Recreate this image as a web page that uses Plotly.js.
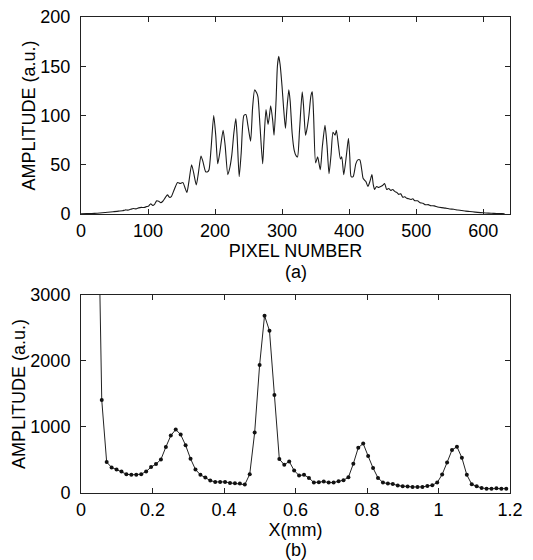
<!DOCTYPE html>
<html>
<head>
<meta charset="utf-8">
<script src="https://cdn.plot.ly/plotly-3.0.1.min.js"></script>
<style>html,body{margin:0;padding:0;background:#fff;}#chart{width:533px;height:560px;}</style>
</head>
<body>
<div id="chart"></div>
<script>
// Panel (a): amplitude vs pixel number
const pixelNumber = [0,8,16,24,32,40,48,56,62,66,70,74,78,82,86,90,94,98,101,104,107,110,113,116,119,122,126,129,132,135,138,141,144,148,152,155,158,161,165,168,172,175,179,182,186,189,191,194,198,201,204,207,212,215,219,222,225,228,231,233,236,239,243,246,249,253,256,259,262,264,267,271,273,276,279,281,283,286,288,291,293,295,297,300,302,305,307,310,312,315,318,321,323,326,330,332,335,337,340,343,345,347,350,353,357,360,364,367,370,373,376,379,381,384,387,389,392,396,399,401,403,406,410,413,416,419,421,425,428,431,434,436,438,441,444,447,450,453,456,459,462,465,468,471,474,477,480,483,486,489,492,495,498,502,506,510,514,518,522,527,532,538,544,550,556,562,568,574,580,588,596,604,612,620,628,632];
const amplitudeA = [0.2,0.4,0.6,0.9,1.3,1.8,2.4,3.0,3.3,4.2,4.0,4.8,5.6,5.3,6.3,6.8,6.6,7.6,8.2,10.5,8.8,10.2,13.5,13,11.6,13,17,19.5,17,18,23,28,32,31,32,27,22,33,50,42,29.5,41,59,53,43,43,45,66,100,80,51,62,85,70,40,47,60,82,97,78,38,62,100,101,90,74,108,126,123,119,90,51,75,106,91,99,110,95,80,115,150,160,152,129,110,87,105,126,115,82,65,59,58,85,124,110,80,86,100,120,124,100,52,58,45,68,90,70,41,60,83,80,85,70,56,58,40,60,77,58,38,38,51,55,55,44,36,33,28,33,40,30,25,28,27,28,29,31,25,26,24,25,23,22,20,20.5,17,17.5,16,15.5,14.8,15.5,13.5,13.5,11.5,11,9.4,9.6,8.5,8.3,7.2,6.5,6.0,5.2,4.8,4.1,3.6,3.0,2.6,2.0,1.5,1.1,0.8,0.6,0.4,0.3];

// Panel (b): amplitude vs X (mm)
const xMm = [0.044,0.058,0.0718,0.0856,0.0994,0.1132,0.127,0.1408,0.1546,0.1684,0.1822,0.196,0.2098,0.2236,0.2374,0.2512,0.265,0.2788,0.2926,0.3064,0.3202,0.334,0.3478,0.3616,0.3754,0.3892,0.403,0.4168,0.4306,0.4444,0.4582,0.472,0.4858,0.4996,0.5134,0.5272,0.541,0.5548,0.5686,0.5824,0.5962,0.61,0.6238,0.6376,0.6514,0.6652,0.679,0.6928,0.7066,0.7204,0.7342,0.748,0.7618,0.7756,0.7894,0.8032,0.817,0.8308,0.8446,0.8584,0.8722,0.886,0.8998,0.9136,0.9274,0.9412,0.955,0.9688,0.9826,0.9964,1.0102,1.024,1.0378,1.0516,1.0654,1.0792,1.093,1.1068,1.1206,1.1344,1.1482,1.162,1.1758,1.1896];
const amplitudeB = [5800,1410,468,387,356,326,285,275,275,285,326,392,438,509,697,870,962,885,723,519,356,275,234,188,168,168,168,153,148,142,127,285,916,1939,2687,2458,1486,514,427,478,341,265,275,229,158,163,173,158,158,178,193,239,443,687,748,560,377,229,158,142,137,112,102,97,92,92,92,107,117,158,280,463,651,702,534,275,132,102,76,66,66,71,66,66];

const FONT = 'Liberation Sans, Arial, sans-serif';
const axisCommon = {
  showline: true, linecolor: '#222', linewidth: 1, mirror: 'ticks',
  ticks: 'inside', ticklen: 5, tickcolor: '#222', tickwidth: 1,
  showgrid: false, zeroline: false,
  tickfont: {family: FONT, size: 18, color: '#000'}
};

const traces = [
  {x: pixelNumber, y: amplitudeA, type: 'scatter', mode: 'lines',
   line: {color: '#1a1a1a', width: 1.1, shape: 'spline', smoothing: 0.6},
   xaxis: 'x', yaxis: 'y', hoverinfo: 'skip'},
  {x: xMm, y: amplitudeB, type: 'scatter', mode: 'lines+markers',
   line: {color: '#222', width: 1},
   marker: {color: '#111', size: 4},
   xaxis: 'x2', yaxis: 'y2', hoverinfo: 'skip'}
];

const layout = {
  width: 533, height: 560,
  margin: {l: 81, r: 23, t: 17, b: 67},
  paper_bgcolor: '#fff', plot_bgcolor: '#fff',
  showlegend: false,
  font: {family: FONT, size: 18, color: '#000'},
  xaxis: Object.assign({}, axisCommon, {
    domain: [0, 1], anchor: 'y', range: [0, 640], dtick: 100, tick0: 0,
    title: {text: 'PIXEL NUMBER', font: {family: FONT, size: 18, color: '#000'}, standoff: 4}
  }),
  yaxis: Object.assign({}, axisCommon, {
    domain: [0.586, 1], anchor: 'x', range: [0, 200], dtick: 50, tick0: 0, ticklabelstandoff: 6,
    title: {text: 'AMPLITUDE (a.u.)', font: {family: FONT, size: 18, color: '#000'}, standoff: 0}
  }),
  xaxis2: Object.assign({}, axisCommon, {
    domain: [0, 1], anchor: 'y2', range: [0, 1.2], dtick: 0.2, tick0: 0,
    title: {text: 'X(mm)', font: {family: FONT, size: 18, color: '#000'}, standoff: 4}
  }),
  yaxis2: Object.assign({}, axisCommon, {
    domain: [0, 0.416], anchor: 'x2', range: [0, 3000], dtick: 1000, tick0: 0, ticklabelstandoff: 6,
    title: {text: 'AMPLITUDE (a.u.)', font: {family: FONT, size: 18, color: '#000'}, standoff: 0}
  }),
  annotations: [
    {text: '(a)', xref: 'paper', yref: 'paper', x: 0.5, y: 0.586, yshift: -58,
     showarrow: false, font: {family: FONT, size: 18, color: '#000'}, xanchor: 'center', yanchor: 'middle'},
    {text: '(b)', xref: 'paper', yref: 'paper', x: 0.5, y: 0, yshift: -57,
     showarrow: false, font: {family: FONT, size: 18, color: '#000'}, xanchor: 'center', yanchor: 'middle'}
  ]
};

Plotly.newPlot('chart', traces, layout, {displayModeBar: false, staticPlot: true});
</script>
</body>
</html>
